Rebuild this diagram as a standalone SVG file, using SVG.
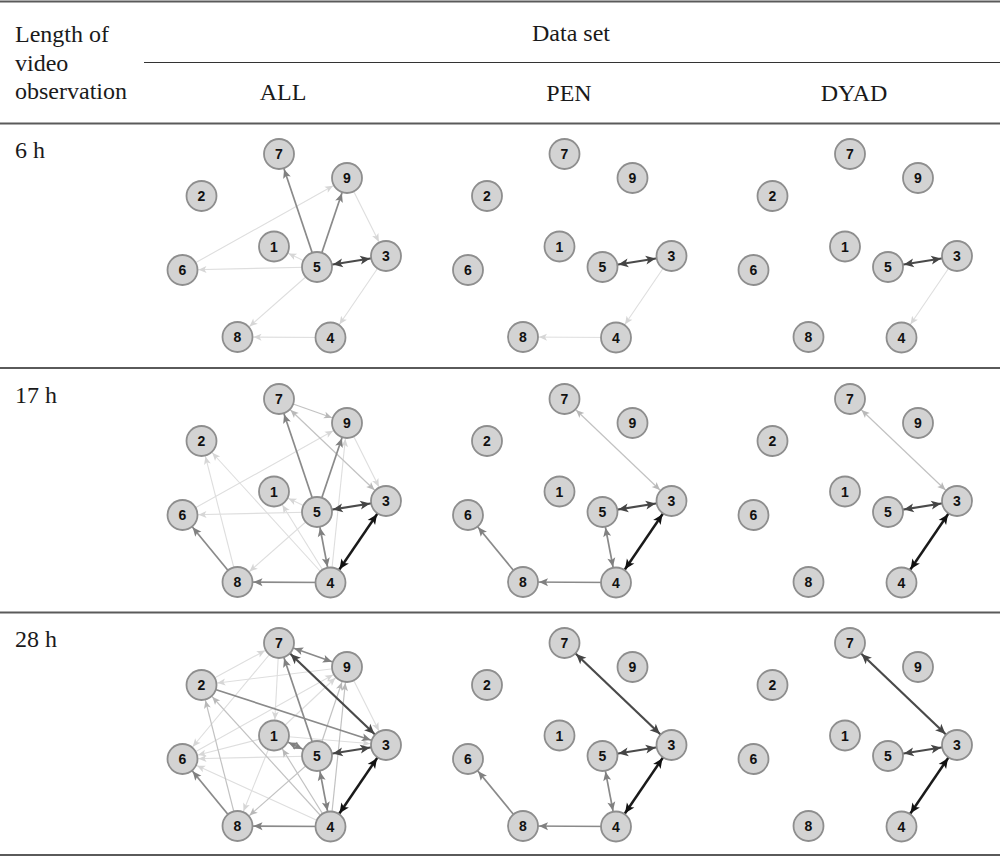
<svg xmlns="http://www.w3.org/2000/svg" width="1000" height="857" viewBox="0 0 1000 857">
<style>
.rule{stroke:#5a5a5a;stroke-width:2}
.rule2{stroke:#333;stroke-width:1.2}
.hd{font-family:"Liberation Serif","Times New Roman",serif;font-size:24px;fill:#1a1a1a}
.mid{text-anchor:middle}
.node circle{fill:#d3d3d3;stroke:#8e8e8e;stroke-width:1.8}
.node text{font-family:"Liberation Sans",Arial,sans-serif;font-weight:bold;font-size:14px;fill:#111;text-anchor:middle}
line{fill:none}
.e0{stroke:#dedede;stroke-width:1.1;marker-end:url(#m0)}
.e0.b{marker-start:url(#m0)}
.e1{stroke:#c2c2c2;stroke-width:1.2;marker-end:url(#m1)}
.e1.b{marker-start:url(#m1)}
.e2{stroke:#8a8a8a;stroke-width:1.7;marker-end:url(#m2)}
.e2.b{marker-start:url(#m2)}
.e3{stroke:#4a4a4a;stroke-width:2.2;marker-end:url(#m3)}
.e3.b{marker-start:url(#m3)}
.e4{stroke:#1a1a1a;stroke-width:2.5;marker-end:url(#m4)}
.e4.b{marker-start:url(#m4)}
</style>
<defs>
<marker id="m0" markerUnits="userSpaceOnUse" markerWidth="40" markerHeight="40" refX="16" refY="0" orient="auto-start-reverse" overflow="visible"><path d="M0,0 L-8,-3.5 L-6,0 L-8,3.5 Z" fill="#d6d6d6"/></marker>
<marker id="m1" markerUnits="userSpaceOnUse" markerWidth="40" markerHeight="40" refX="16" refY="0" orient="auto-start-reverse" overflow="visible"><path d="M0,0 L-8,-3.5 L-6,0 L-8,3.5 Z" fill="#b8b8b8"/></marker>
<marker id="m2" markerUnits="userSpaceOnUse" markerWidth="40" markerHeight="40" refX="16" refY="0" orient="auto-start-reverse" overflow="visible"><path d="M0,0 L-9,-4 L-7,0 L-9,4 Z" fill="#808080"/></marker>
<marker id="m3" markerUnits="userSpaceOnUse" markerWidth="40" markerHeight="40" refX="16" refY="0" orient="auto-start-reverse" overflow="visible"><path d="M0,0 L-10,-4.5 L-7.5,0 L-10,4.5 Z" fill="#444"/></marker>
<marker id="m4" markerUnits="userSpaceOnUse" markerWidth="40" markerHeight="40" refX="16" refY="0" orient="auto-start-reverse" overflow="visible"><path d="M0,0 L-10,-4.5 L-7.5,0 L-10,4.5 Z" fill="#111"/></marker>
</defs>
<rect width="1000" height="857" fill="#fff"/>
<g id="table">
<line class="rule" x1="0" y1="1.5" x2="1000" y2="1.5"/>
<line class="rule2" x1="144" y1="62.5" x2="1000" y2="62.5"/>
<line class="rule" x1="0" y1="123.5" x2="1000" y2="123.5"/>
<line class="rule" x1="0" y1="368" x2="1000" y2="368"/>
<line class="rule" x1="0" y1="612.5" x2="1000" y2="612.5"/>
<line class="rule" x1="0" y1="855" x2="1000" y2="855"/>
<text class="hd" x="15" y="42">Length of</text>
<text class="hd" x="15" y="71">video</text>
<text class="hd" x="15" y="99">observation</text>
<text class="hd mid" x="571" y="41">Data set</text>
<text class="hd mid" x="283" y="100">ALL</text>
<text class="hd mid" x="569" y="101">PEN</text>
<text class="hd mid" x="854" y="101">DYAD</text>
<text class="hd" x="15" y="158">6 h</text>
<text class="hd" x="15" y="403">17 h</text>
<text class="hd" x="15" y="647">28 h</text>
</g>
<g id="connectors">
<g id="c-all-6h">
<line class="e0" x1="182.5" y1="270" x2="347" y2="178"/>
<line class="e0" x1="347" y1="178" x2="386" y2="256"/>
<line class="e0" x1="317" y1="267" x2="274" y2="246.5"/>
<line class="e0" x1="317" y1="267" x2="182.5" y2="270"/>
<line class="e0" x1="317" y1="267" x2="237.5" y2="337"/>
<line class="e0" x1="386" y1="256" x2="330.5" y2="337.5"/>
<line class="e0" x1="330.5" y1="337.5" x2="237.5" y2="337"/>
<line class="e2" x1="317" y1="267" x2="279" y2="154"/>
<line class="e2" x1="317" y1="267" x2="347" y2="178"/>
<line class="e3 b" x1="317" y1="267" x2="386" y2="256"/>
</g>
<g id="c-pen-6h" transform="translate(285.5,0)">
<line class="e0" x1="386" y1="256" x2="330.5" y2="337.5"/>
<line class="e0" x1="330.5" y1="337.5" x2="237.5" y2="337"/>
<line class="e3 b" x1="317" y1="267" x2="386" y2="256"/>
</g>
<g id="c-dyad-6h" transform="translate(571,0)">
<line class="e0" x1="386" y1="256" x2="330.5" y2="337.5"/>
<line class="e3 b" x1="317" y1="267" x2="386" y2="256"/>
</g>
<g id="c-all-17h" transform="translate(0,245)">
<line class="e0" x1="347" y1="178" x2="386" y2="256"/>
<line class="e0" x1="182.5" y1="270" x2="347" y2="178"/>
<line class="e0" x1="330.5" y1="337.5" x2="201.5" y2="196"/>
<line class="e0" x1="237.5" y1="337" x2="201.5" y2="196"/>
<line class="e0" x1="330.5" y1="337.5" x2="274" y2="246.5"/>
<line class="e0" x1="317" y1="267" x2="274" y2="246.5"/>
<line class="e0" x1="317" y1="267" x2="182.5" y2="270"/>
<line class="e0" x1="317" y1="267" x2="237.5" y2="337"/>
<line class="e0" x1="330.5" y1="337.5" x2="347" y2="178"/>
<line class="e1" x1="279" y1="154" x2="347" y2="178"/>
<line class="e1 b" x1="279" y1="154" x2="386" y2="256"/>
<line class="e2" x1="317" y1="267" x2="279" y2="154"/>
<line class="e2" x1="317" y1="267" x2="347" y2="178"/>
<line class="e2" x1="237.5" y1="337" x2="182.5" y2="270"/>
<line class="e2" x1="330.5" y1="337.5" x2="237.5" y2="337"/>
<line class="e2 b" x1="317" y1="267" x2="330.5" y2="337.5"/>
<line class="e3 b" x1="317" y1="267" x2="386" y2="256"/>
<line class="e4 b" x1="386" y1="256" x2="330.5" y2="337.5"/>
</g>
<g id="c-pen-17h" transform="translate(285.5,245)">
<line class="e1 b" x1="279" y1="154" x2="386" y2="256"/>
<line class="e2" x1="237.5" y1="337" x2="182.5" y2="270"/>
<line class="e2" x1="330.5" y1="337.5" x2="237.5" y2="337"/>
<line class="e2 b" x1="317" y1="267" x2="330.5" y2="337.5"/>
<line class="e3 b" x1="317" y1="267" x2="386" y2="256"/>
<line class="e4 b" x1="386" y1="256" x2="330.5" y2="337.5"/>
</g>
<g id="c-dyad-17h" transform="translate(571,245)">
<line class="e1 b" x1="279" y1="154" x2="386" y2="256"/>
<line class="e3 b" x1="317" y1="267" x2="386" y2="256"/>
<line class="e4 b" x1="386" y1="256" x2="330.5" y2="337.5"/>
</g>
<g id="c-all-28h" transform="translate(0,489)">
<line class="e0" x1="330.5" y1="337.5" x2="182.5" y2="270"/>
<line class="e0" x1="347" y1="178" x2="386" y2="256"/>
<line class="e0" x1="347" y1="178" x2="201.5" y2="196"/>
<line class="e0" x1="201.5" y1="196" x2="279" y2="154"/>
<line class="e0" x1="279" y1="154" x2="274" y2="246.5"/>
<line class="e0" x1="279" y1="154" x2="182.5" y2="270"/>
<line class="e0" x1="182.5" y1="270" x2="347" y2="178"/>
<line class="e0" x1="274" y1="246.5" x2="182.5" y2="270"/>
<line class="e0" x1="317" y1="267" x2="182.5" y2="270"/>
<line class="e0" x1="274" y1="246.5" x2="386" y2="256"/>
<line class="e0" x1="274" y1="246.5" x2="237.5" y2="337"/>
<line class="e0" x1="274" y1="246.5" x2="347" y2="178"/>
<line class="e1" x1="317" y1="267" x2="347" y2="178"/>
<line class="e1" x1="330.5" y1="337.5" x2="201.5" y2="196"/>
<line class="e1" x1="330.5" y1="337.5" x2="274" y2="246.5"/>
<line class="e1" x1="317" y1="267" x2="237.5" y2="337"/>
<line class="e1" x1="237.5" y1="337" x2="201.5" y2="196"/>
<line class="e1" x1="330.5" y1="337.5" x2="347" y2="178"/>
<line class="e2 b" x1="279" y1="154" x2="347" y2="178"/>
<line class="e2" x1="317" y1="267" x2="279" y2="154"/>
<line class="e2" x1="201.5" y1="196" x2="386" y2="256"/>
<line class="e2" x1="237.5" y1="337" x2="182.5" y2="270"/>
<line class="e2" x1="330.5" y1="337.5" x2="237.5" y2="337"/>
<line class="e2 b" x1="274" y1="246.5" x2="317" y2="267"/>
<line class="e2 b" x1="317" y1="267" x2="330.5" y2="337.5"/>
<line class="e3 b" x1="279" y1="154" x2="386" y2="256"/>
<line class="e3 b" x1="317" y1="267" x2="386" y2="256"/>
<line class="e4 b" x1="386" y1="256" x2="330.5" y2="337.5"/>
</g>
<g id="c-pen-28h" transform="translate(285.5,489)">
<line class="e2" x1="237.5" y1="337" x2="182.5" y2="270"/>
<line class="e2" x1="330.5" y1="337.5" x2="237.5" y2="337"/>
<line class="e2 b" x1="317" y1="267" x2="330.5" y2="337.5"/>
<line class="e3 b" x1="279" y1="154" x2="386" y2="256"/>
<line class="e3 b" x1="317" y1="267" x2="386" y2="256"/>
<line class="e4 b" x1="386" y1="256" x2="330.5" y2="337.5"/>
</g>
<g id="c-dyad-28h" transform="translate(571,489)">
<line class="e3 b" x1="279" y1="154" x2="386" y2="256"/>
<line class="e3 b" x1="317" y1="267" x2="386" y2="256"/>
<line class="e4 b" x1="386" y1="256" x2="330.5" y2="337.5"/>
</g>
</g>
<g id="nodes">
<g id="nodes-all-6h">
<g id="all-6h-1" class="node"><circle cx="274" cy="246.5" r="15"/><text x="274" y="251.5">1</text></g>
<g id="all-6h-2" class="node"><circle cx="201.5" cy="196" r="15"/><text x="201.5" y="201">2</text></g>
<g id="all-6h-3" class="node"><circle cx="386" cy="256" r="15"/><text x="386" y="261">3</text></g>
<g id="all-6h-4" class="node"><circle cx="330.5" cy="337.5" r="15"/><text x="330.5" y="342.5">4</text></g>
<g id="all-6h-5" class="node"><circle cx="317" cy="267" r="15"/><text x="317" y="272">5</text></g>
<g id="all-6h-6" class="node"><circle cx="182.5" cy="270" r="15"/><text x="182.5" y="275">6</text></g>
<g id="all-6h-7" class="node"><circle cx="279" cy="154" r="15"/><text x="279" y="159">7</text></g>
<g id="all-6h-8" class="node"><circle cx="237.5" cy="337" r="15"/><text x="237.5" y="342">8</text></g>
<g id="all-6h-9" class="node"><circle cx="347" cy="178" r="15"/><text x="347" y="183">9</text></g>
</g>
<g id="nodes-pen-6h" transform="translate(285.5,0)">
<g id="pen-6h-1" class="node"><circle cx="274" cy="246.5" r="15"/><text x="274" y="251.5">1</text></g>
<g id="pen-6h-2" class="node"><circle cx="201.5" cy="196" r="15"/><text x="201.5" y="201">2</text></g>
<g id="pen-6h-3" class="node"><circle cx="386" cy="256" r="15"/><text x="386" y="261">3</text></g>
<g id="pen-6h-4" class="node"><circle cx="330.5" cy="337.5" r="15"/><text x="330.5" y="342.5">4</text></g>
<g id="pen-6h-5" class="node"><circle cx="317" cy="267" r="15"/><text x="317" y="272">5</text></g>
<g id="pen-6h-6" class="node"><circle cx="182.5" cy="270" r="15"/><text x="182.5" y="275">6</text></g>
<g id="pen-6h-7" class="node"><circle cx="279" cy="154" r="15"/><text x="279" y="159">7</text></g>
<g id="pen-6h-8" class="node"><circle cx="237.5" cy="337" r="15"/><text x="237.5" y="342">8</text></g>
<g id="pen-6h-9" class="node"><circle cx="347" cy="178" r="15"/><text x="347" y="183">9</text></g>
</g>
<g id="nodes-dyad-6h" transform="translate(571,0)">
<g id="dyad-6h-1" class="node"><circle cx="274" cy="246.5" r="15"/><text x="274" y="251.5">1</text></g>
<g id="dyad-6h-2" class="node"><circle cx="201.5" cy="196" r="15"/><text x="201.5" y="201">2</text></g>
<g id="dyad-6h-3" class="node"><circle cx="386" cy="256" r="15"/><text x="386" y="261">3</text></g>
<g id="dyad-6h-4" class="node"><circle cx="330.5" cy="337.5" r="15"/><text x="330.5" y="342.5">4</text></g>
<g id="dyad-6h-5" class="node"><circle cx="317" cy="267" r="15"/><text x="317" y="272">5</text></g>
<g id="dyad-6h-6" class="node"><circle cx="182.5" cy="270" r="15"/><text x="182.5" y="275">6</text></g>
<g id="dyad-6h-7" class="node"><circle cx="279" cy="154" r="15"/><text x="279" y="159">7</text></g>
<g id="dyad-6h-8" class="node"><circle cx="237.5" cy="337" r="15"/><text x="237.5" y="342">8</text></g>
<g id="dyad-6h-9" class="node"><circle cx="347" cy="178" r="15"/><text x="347" y="183">9</text></g>
</g>
<g id="nodes-all-17h" transform="translate(0,245)">
<g id="all-17h-1" class="node"><circle cx="274" cy="246.5" r="15"/><text x="274" y="251.5">1</text></g>
<g id="all-17h-2" class="node"><circle cx="201.5" cy="196" r="15"/><text x="201.5" y="201">2</text></g>
<g id="all-17h-3" class="node"><circle cx="386" cy="256" r="15"/><text x="386" y="261">3</text></g>
<g id="all-17h-4" class="node"><circle cx="330.5" cy="337.5" r="15"/><text x="330.5" y="342.5">4</text></g>
<g id="all-17h-5" class="node"><circle cx="317" cy="267" r="15"/><text x="317" y="272">5</text></g>
<g id="all-17h-6" class="node"><circle cx="182.5" cy="270" r="15"/><text x="182.5" y="275">6</text></g>
<g id="all-17h-7" class="node"><circle cx="279" cy="154" r="15"/><text x="279" y="159">7</text></g>
<g id="all-17h-8" class="node"><circle cx="237.5" cy="337" r="15"/><text x="237.5" y="342">8</text></g>
<g id="all-17h-9" class="node"><circle cx="347" cy="178" r="15"/><text x="347" y="183">9</text></g>
</g>
<g id="nodes-pen-17h" transform="translate(285.5,245)">
<g id="pen-17h-1" class="node"><circle cx="274" cy="246.5" r="15"/><text x="274" y="251.5">1</text></g>
<g id="pen-17h-2" class="node"><circle cx="201.5" cy="196" r="15"/><text x="201.5" y="201">2</text></g>
<g id="pen-17h-3" class="node"><circle cx="386" cy="256" r="15"/><text x="386" y="261">3</text></g>
<g id="pen-17h-4" class="node"><circle cx="330.5" cy="337.5" r="15"/><text x="330.5" y="342.5">4</text></g>
<g id="pen-17h-5" class="node"><circle cx="317" cy="267" r="15"/><text x="317" y="272">5</text></g>
<g id="pen-17h-6" class="node"><circle cx="182.5" cy="270" r="15"/><text x="182.5" y="275">6</text></g>
<g id="pen-17h-7" class="node"><circle cx="279" cy="154" r="15"/><text x="279" y="159">7</text></g>
<g id="pen-17h-8" class="node"><circle cx="237.5" cy="337" r="15"/><text x="237.5" y="342">8</text></g>
<g id="pen-17h-9" class="node"><circle cx="347" cy="178" r="15"/><text x="347" y="183">9</text></g>
</g>
<g id="nodes-dyad-17h" transform="translate(571,245)">
<g id="dyad-17h-1" class="node"><circle cx="274" cy="246.5" r="15"/><text x="274" y="251.5">1</text></g>
<g id="dyad-17h-2" class="node"><circle cx="201.5" cy="196" r="15"/><text x="201.5" y="201">2</text></g>
<g id="dyad-17h-3" class="node"><circle cx="386" cy="256" r="15"/><text x="386" y="261">3</text></g>
<g id="dyad-17h-4" class="node"><circle cx="330.5" cy="337.5" r="15"/><text x="330.5" y="342.5">4</text></g>
<g id="dyad-17h-5" class="node"><circle cx="317" cy="267" r="15"/><text x="317" y="272">5</text></g>
<g id="dyad-17h-6" class="node"><circle cx="182.5" cy="270" r="15"/><text x="182.5" y="275">6</text></g>
<g id="dyad-17h-7" class="node"><circle cx="279" cy="154" r="15"/><text x="279" y="159">7</text></g>
<g id="dyad-17h-8" class="node"><circle cx="237.5" cy="337" r="15"/><text x="237.5" y="342">8</text></g>
<g id="dyad-17h-9" class="node"><circle cx="347" cy="178" r="15"/><text x="347" y="183">9</text></g>
</g>
<g id="nodes-all-28h" transform="translate(0,489)">
<g id="all-28h-1" class="node"><circle cx="274" cy="246.5" r="15"/><text x="274" y="251.5">1</text></g>
<g id="all-28h-2" class="node"><circle cx="201.5" cy="196" r="15"/><text x="201.5" y="201">2</text></g>
<g id="all-28h-3" class="node"><circle cx="386" cy="256" r="15"/><text x="386" y="261">3</text></g>
<g id="all-28h-4" class="node"><circle cx="330.5" cy="337.5" r="15"/><text x="330.5" y="342.5">4</text></g>
<g id="all-28h-5" class="node"><circle cx="317" cy="267" r="15"/><text x="317" y="272">5</text></g>
<g id="all-28h-6" class="node"><circle cx="182.5" cy="270" r="15"/><text x="182.5" y="275">6</text></g>
<g id="all-28h-7" class="node"><circle cx="279" cy="154" r="15"/><text x="279" y="159">7</text></g>
<g id="all-28h-8" class="node"><circle cx="237.5" cy="337" r="15"/><text x="237.5" y="342">8</text></g>
<g id="all-28h-9" class="node"><circle cx="347" cy="178" r="15"/><text x="347" y="183">9</text></g>
</g>
<g id="nodes-pen-28h" transform="translate(285.5,489)">
<g id="pen-28h-1" class="node"><circle cx="274" cy="246.5" r="15"/><text x="274" y="251.5">1</text></g>
<g id="pen-28h-2" class="node"><circle cx="201.5" cy="196" r="15"/><text x="201.5" y="201">2</text></g>
<g id="pen-28h-3" class="node"><circle cx="386" cy="256" r="15"/><text x="386" y="261">3</text></g>
<g id="pen-28h-4" class="node"><circle cx="330.5" cy="337.5" r="15"/><text x="330.5" y="342.5">4</text></g>
<g id="pen-28h-5" class="node"><circle cx="317" cy="267" r="15"/><text x="317" y="272">5</text></g>
<g id="pen-28h-6" class="node"><circle cx="182.5" cy="270" r="15"/><text x="182.5" y="275">6</text></g>
<g id="pen-28h-7" class="node"><circle cx="279" cy="154" r="15"/><text x="279" y="159">7</text></g>
<g id="pen-28h-8" class="node"><circle cx="237.5" cy="337" r="15"/><text x="237.5" y="342">8</text></g>
<g id="pen-28h-9" class="node"><circle cx="347" cy="178" r="15"/><text x="347" y="183">9</text></g>
</g>
<g id="nodes-dyad-28h" transform="translate(571,489)">
<g id="dyad-28h-1" class="node"><circle cx="274" cy="246.5" r="15"/><text x="274" y="251.5">1</text></g>
<g id="dyad-28h-2" class="node"><circle cx="201.5" cy="196" r="15"/><text x="201.5" y="201">2</text></g>
<g id="dyad-28h-3" class="node"><circle cx="386" cy="256" r="15"/><text x="386" y="261">3</text></g>
<g id="dyad-28h-4" class="node"><circle cx="330.5" cy="337.5" r="15"/><text x="330.5" y="342.5">4</text></g>
<g id="dyad-28h-5" class="node"><circle cx="317" cy="267" r="15"/><text x="317" y="272">5</text></g>
<g id="dyad-28h-6" class="node"><circle cx="182.5" cy="270" r="15"/><text x="182.5" y="275">6</text></g>
<g id="dyad-28h-7" class="node"><circle cx="279" cy="154" r="15"/><text x="279" y="159">7</text></g>
<g id="dyad-28h-8" class="node"><circle cx="237.5" cy="337" r="15"/><text x="237.5" y="342">8</text></g>
<g id="dyad-28h-9" class="node"><circle cx="347" cy="178" r="15"/><text x="347" y="183">9</text></g>
</g>
</g>
</svg>
